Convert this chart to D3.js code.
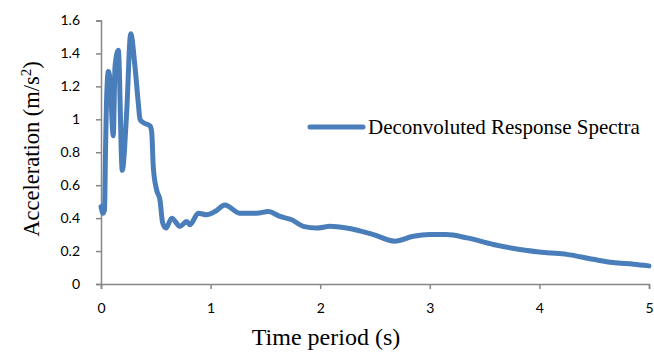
<!DOCTYPE html>
<html>
<head>
<meta charset="utf-8">
<script src="https://cdn.jsdelivr.net/npm/d3@7"></script>
<style>
  html, body { margin: 0; padding: 0; background: #fff; }
  svg { display: block; }
</style>
</head>
<body>
<svg id="chart" width="654" height="354"></svg>
<script>
// Response spectrum: period (s) vs spectral acceleration (m/s^2)
const periods = [0.000, 0.018, 0.032, 0.041, 0.050, 0.067, 0.082, 0.112, 0.128, 0.158,
                 0.194, 0.234, 0.271, 0.310, 0.340, 0.356, 0.386, 0.447, 0.463, 0.477,
                 0.508, 0.538, 0.563, 0.593, 0.645, 0.721, 0.782, 0.812, 0.888, 0.964,
                 1.040, 1.131, 1.268, 1.420, 1.526, 1.633, 1.740, 1.846, 1.968, 2.090,
                 2.240, 2.485, 2.680, 2.850, 3.000, 3.150, 3.340, 3.580, 3.820, 4.070,
                 4.250, 4.490, 4.670, 4.860, 5.000];
const accels  = [0.47, 0.43, 0.45, 0.80, 1.10, 1.29, 1.24, 0.90, 1.32, 1.42,
                 0.69, 1.04, 1.52, 1.32, 1.10, 1.00, 0.98, 0.96, 0.92, 0.71,
                 0.57, 0.51, 0.37, 0.34, 0.40, 0.35, 0.38, 0.36, 0.43, 0.42,
                 0.44, 0.48, 0.43, 0.43, 0.44, 0.41, 0.39, 0.35, 0.34, 0.35,
                 0.34, 0.30, 0.26, 0.29, 0.30, 0.30, 0.28, 0.24, 0.21, 0.19,
                 0.18, 0.15, 0.13, 0.12, 0.11];
const xTicks = [0, 1, 2, 3, 4, 5];
const yTicks = [0, 0.2, 0.4, 0.6, 0.8, 1, 1.2, 1.4, 1.6];
const seriesName = "Deconvoluted Response Spectra";
const xTitle = "Time period (s)";

const points = periods.map((p, i) => ({ x: p, y: accels[i] }));

const svg = d3.select("#chart");
const plotLeft = 101, plotRight = 649, plotTop = 20.5, plotBottom = 284;

const x = d3.scaleLinear().domain([0, 5]).range([plotLeft, plotRight]);
const y = d3.scaleLinear().domain([0, 1.6]).range([plotBottom, plotTop]);

const axisColor = "#868686";
const tickFont = "Lato, 'Open Sans', sans-serif";
const serif = "'Liberation Serif', 'Times New Roman', serif";

// y axis
const yAxis = svg.append("g")
  .attr("transform", `translate(${plotLeft},0)`)
  .call(d3.axisLeft(y).tickValues(yTicks).tickSize(5).tickPadding(16)
        .tickFormat(d => d === 0 ? "0" : d3.format("~g")(d)));
// x axis
const xAxis = svg.append("g")
  .attr("transform", `translate(0,${plotBottom})`)
  .call(d3.axisBottom(x).tickValues(xTicks).tickSize(5).tickPadding(14)
        .tickFormat(d3.format("d")));

[yAxis, xAxis].forEach(g => {
  g.select(".domain").attr("stroke", axisColor).attr("stroke-width", 1.5);
  g.selectAll(".tick line").attr("stroke", axisColor).attr("stroke-width", 1.5);
  g.selectAll(".tick text")
    .attr("fill", "#000")
    .style("font-family", tickFont)
    .style("font-size", "14px");
});

// series line
svg.append("path")
  .datum(points)
  .attr("fill", "none")
  .attr("stroke", "#4A7EBB")
  .attr("stroke-width", 5)
  .attr("stroke-linejoin", "round")
  .attr("stroke-linecap", "round")
  .attr("d", d3.line().x(d => x(d.x)).y(d => y(d.y)).curve(d3.curveMonotoneX));

// axis titles
svg.append("text")
  .attr("x", 326)
  .attr("y", 345)
  .attr("text-anchor", "middle")
  .style("font-family", serif)
  .style("font-size", "24px")
  .text(xTitle);

const yTitle = svg.append("text")
  .attr("transform", `translate(39,149) rotate(-90)`)
  .attr("text-anchor", "middle")
  .style("font-family", serif)
  .style("font-size", "22.5px");
yTitle.append("tspan").text("Acceleration (m/s");
yTitle.append("tspan").attr("dy", -8).style("font-size", "15px").text("2");
yTitle.append("tspan").attr("dy", 8).text(")");

// legend
const legend = svg.append("g").attr("transform", "translate(310,127)");
legend.append("line")
  .attr("x1", 0).attr("x2", 53).attr("y1", 0).attr("y2", 0)
  .attr("stroke", "#4A7EBB").attr("stroke-width", 5).attr("stroke-linecap", "round");
legend.append("text")
  .attr("x", 58).attr("y", 7)
  .style("font-family", serif)
  .style("font-size", "21px")
  .text(seriesName);
</script>
</body>
</html>
